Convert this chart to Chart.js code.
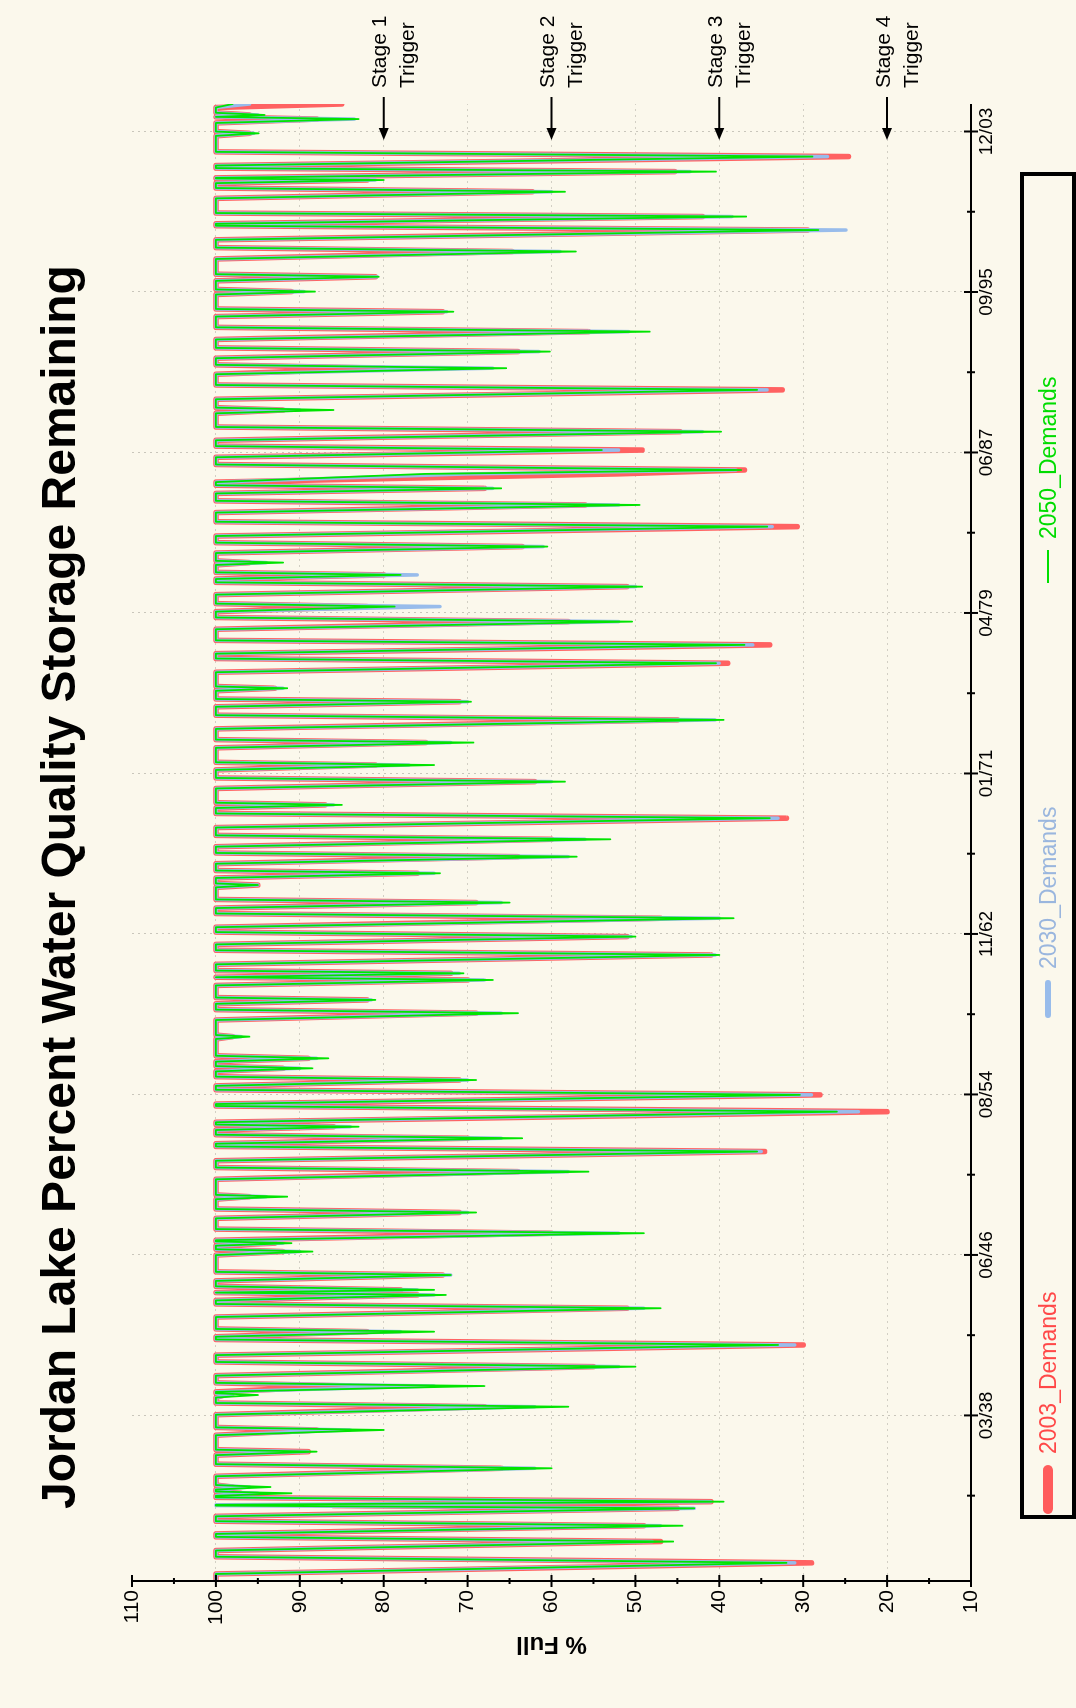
<!DOCTYPE html>
<html lang="en">
<head>
    <meta charset="UTF-8">
    <title>Jordan Lake Percent Water Quality Storage Remaining</title>
    <script src="https://cdn.jsdelivr.net/npm/chart.js"></script>
    <style>
        html, body {
            margin: 0;
            padding: 0;
            width: 1076px;
            height: 1708px;
            overflow: hidden;
            background: #fbf8ec;
            font-family: 'Liberation Sans', Arial, Helvetica, sans-serif;
        }
        /* chart is drawn landscape, then turned a quarter to the left */
        #wrap {
            position: absolute;
            left: 0;
            top: 0;
            width: 1708px;
            height: 1076px;
            background: #fbf8ec;
            transform-origin: 0 0;
            transform: translate(0, 1708px) rotate(-90deg);
        }
        #chart { position: absolute; left: 0; top: 0; }
        #title {
            position: absolute;
            left: 199px;
            top: 35px;
            font-size: 48px;
            line-height: 48px;
            font-weight: bold;
            white-space: nowrap;
            color: #000;
        }
        #legend {
            position: absolute;
            left: 189px;
            top: 1020px;
            width: 1347px;
            height: 56px;
            border: 4px solid #000;
            box-sizing: border-box;
        }
        .item { position: absolute; top: 0; height: 48px; }
        .sw { position: absolute; top: 24px; transform: translateY(-50%); }
        .lbl { position: absolute; top: 11px; font-size: 23px; line-height: 26px; white-space: nowrap; }
    </style>
</head>
<body>
<div id="wrap">
    <canvas id="chart" width="1708" height="1076"></canvas>
    <div id="title">Jordan Lake Percent Water Quality Storage Remaining</div>
    <div id="legend">
        <div class="item" style="left:1px">
            <span class="sw" style="left:0;width:49px;height:10px;border-radius:5px;background:#ff5c5c"></span>
            <span class="lbl" style="left:60px;color:#ff4848">2003_Demands</span>
        </div>
        <div class="item" style="left:497px">
            <span class="sw" style="left:0;width:38px;height:6px;border-radius:3px;background:#98bceb"></span>
            <span class="lbl" style="left:49px;color:#9ab6de">2030_Demands</span>
        </div>
        <div class="item" style="left:932px">
            <span class="sw" style="left:0;width:33px;height:2px;background:#00e000"></span>
            <span class="lbl" style="left:44px;color:#00dc00">2050_Demands</span>
        </div>
    </div>
</div>

<script>
    // time in decimal years, one row per drawdown event
    const times = [
        1929.74,
        1930.10, 1930.67, 1930.98,
        1931.30, 1931.76, 1932.00,
        1932.15, 1932.57, 1932.80,
        1933.05, 1933.46, 1933.60, 1933.64, 1933.80, 1934.02,
        1934.10, 1934.23, 1934.32,
        1934.42, 1934.55, 1934.65,
        1935.10, 1935.51, 1935.72,
        1936.18, 1936.36, 1936.46,
        1937.20, 1937.47, 1937.60,
        1938.25, 1938.66, 1938.85,
        1939.13, 1939.26, 1939.35,
        1939.42, 1939.72, 1939.88,
        1940.25, 1940.71, 1940.95,
        1941.30, 1941.82, 1942.10,
        1942.24, 1942.50, 1942.64,
        1943.25, 1943.70, 1943.92,
        1944.10, 1944.38, 1944.50, 1944.64, 1944.82,
        1945.10, 1945.40, 1945.56,
        1946.42, 1946.60, 1946.72,
        1946.90, 1947.03, 1947.12,
        1947.18, 1947.54, 1947.75,
        1948.30, 1948.60, 1948.78,
        1949.28, 1949.41, 1949.50,
        1950.30, 1950.69, 1950.90,
        1951.25, 1951.72, 1951.98,
        1952.12, 1952.40, 1952.58,
        1952.82, 1952.99, 1953.10,
        1953.22, 1953.76, 1954.05,
        1954.15, 1954.62, 1954.88,
        1955.08, 1955.38, 1955.55,
        1955.82, 1955.98, 1956.09,
        1956.32, 1956.49, 1956.62,
        1957.48, 1957.60, 1957.68,
        1958.45, 1958.80, 1958.98,
        1959.28, 1959.48, 1959.60,
        1960.22, 1960.50, 1960.64, 1960.84, 1960.98,
        1961.30, 1961.78, 1962.02,
        1962.32, 1962.72, 1962.95,
        1963.20, 1963.66, 1963.90,
        1964.18, 1964.46, 1964.62,
        1965.24, 1965.36, 1965.44,
        1965.72, 1965.96, 1966.10,
        1966.45, 1966.81, 1967.00,
        1967.32, 1967.70, 1967.90,
        1968.30, 1968.78, 1969.02,
        1969.30, 1969.46, 1969.57,
        1970.30, 1970.65, 1970.84,
        1971.25, 1971.50, 1971.64,
        1972.38, 1972.65, 1972.80,
        1973.35, 1973.81, 1974.05,
        1974.48, 1974.74, 1974.88,
        1975.30, 1975.43, 1975.52,
        1976.25, 1976.71, 1976.95,
        1977.20, 1977.65, 1977.88,
        1978.45, 1978.84, 1979.05,
        1979.35, 1979.61, 1979.76,
        1980.22, 1980.63, 1980.85,
        1981.02, 1981.23, 1981.36,
        1981.74, 1981.86, 1981.95,
        1982.35, 1982.68, 1982.88,
        1983.22, 1983.70, 1983.95,
        1984.42, 1984.81, 1985.02,
        1985.40, 1985.66, 1985.82,
        1985.98, 1986.40, 1986.60, 1986.88,
        1987.25, 1987.62, 1987.82,
        1988.12, 1988.56, 1988.80,
        1989.50, 1989.67, 1989.79,
        1990.22, 1990.70, 1990.95,
        1991.50, 1991.81, 1991.98,
        1992.32, 1992.66, 1992.85,
        1993.28, 1993.68, 1993.90,
        1994.45, 1994.70, 1994.84,
        1995.58, 1995.73, 1995.84,
        1996.28, 1996.49, 1996.62,
        1997.40, 1997.78, 1997.98,
        1998.38, 1998.88, 1999.10,
        1999.20, 1999.57, 1999.75,
        2000.50, 2000.84, 2001.03,
        2001.28, 2001.44, 2001.52,
        2001.55, 2001.87, 2002.05,
        2002.18, 2002.64, 2002.88,
        2003.70, 2003.83, 2003.92,
        2004.36, 2004.56, 2004.67, 2004.77, 2004.88,
        2005.15, 2005.33
    ];

    // % full, 2003 demands
    const d2003 = [
        100,
        100, 29, 100,
        100, 47, 100,
        100, 49, 100,
        100, 45, 86, 76, 41, 100,
        100, 97, 100,
        100, 98, 100,
        100, 66, 100,
        100, 89, 100,
        100, 88, 100,
        100, 68, 100,
        100, 99, 100,
        100, 84, 100,
        100, 55, 100,
        100, 30, 100,
        100, 82, 100,
        100, 51, 100,
        100, 76, 100, 78, 100,
        100, 73, 100,
        100, 92, 100,
        100, 93, 100,
        100, 60, 100,
        100, 71, 100,
        100, 96, 100,
        100, 64, 100,
        100, 34.6, 100,
        100, 70, 100,
        100, 86, 100,
        100, 20, 100,
        100, 28, 100,
        100, 71, 100,
        100, 92, 100,
        100, 89, 100,
        100, 98, 100,
        100, 69, 100,
        100, 82, 100,
        100, 70, 100, 72, 100,
        100, 41, 100,
        100, 51, 100,
        100, 47, 100,
        100, 69, 100,
        100, 95, 100,
        100, 76, 100,
        100, 64, 100,
        100, 60, 100,
        100, 32, 100,
        100, 87, 100,
        100, 62, 100,
        100, 81, 100,
        100, 75, 100,
        100, 45, 100,
        100, 71, 100,
        100, 93, 100,
        100, 39, 100,
        100, 34, 100,
        100, 58, 100,
        100, 82, 100,
        100, 51, 100,
        100, 80, 100,
        100, 96, 100,
        100, 63.5, 100,
        100, 30.7, 100,
        100, 56, 100,
        100, 68, 100,
        100, 52, 37, 100,
        100, 49.2, 100,
        100, 44.7, 100,
        100, 92, 100,
        100, 32.5, 100,
        100, 80, 100,
        100, 64, 100,
        100, 55.6, 100,
        100, 73, 100,
        100, 91, 100,
        100, 81, 100,
        100, 64.7, 100,
        100, 29.5, 100,
        100, 42, 100,
        100, 62.3, 100,
        100, 82, 100,
        100, 45.3, 100,
        100, 24.6, 100,
        100, 96, 100,
        100, 88, 100, 96, 100,
        100, 85
    ];

    // % full, 2030 demands
    const d2030 = [
        100,
        100, 31, 100,
        100, 48, 100,
        100, 47, 100,
        100, 43, 100, 100, 41, 100,
        100, 95, 100,
        100, 96, 100,
        100, 62, 100,
        100, 89, 100,
        100, 84, 100,
        100, 62, 100,
        100, 98, 100,
        100, 74, 100,
        100, 52, 100,
        100, 31, 100,
        100, 78, 100,
        100, 49, 100,
        100, 74, 100, 76, 100,
        100, 72, 100,
        100, 90, 100,
        100, 92, 100,
        100, 52, 100,
        100, 70, 100,
        100, 94, 100,
        100, 58, 100,
        100, 35, 100,
        100, 66, 100,
        100, 84, 100,
        100, 23.4, 100,
        100, 29, 100,
        100, 70, 100,
        100, 90, 100,
        100, 88, 100,
        100, 97, 100,
        100, 66, 100,
        100, 81.5, 100,
        100, 68, 100, 71, 100,
        100, 40.5, 100,
        100, 50.5, 100,
        100, 40, 100,
        100, 66, 100,
        100, 95, 100,
        100, 74, 100,
        100, 58, 100,
        100, 56, 100,
        100, 33, 100,
        100, 86, 100,
        100, 60, 100,
        100, 77, 100,
        100, 72, 100,
        100, 40.5, 100,
        100, 70, 100,
        100, 92, 100,
        100, 40, 100,
        100, 36, 100,
        100, 52, 100,
        100, 73.3, 100,
        100, 50, 100,
        100, 76, 100,
        100, 94, 100,
        100, 61, 100,
        100, 33.7, 100,
        100, 52, 100,
        100, 67, 100,
        100, 70, 38, 100,
        100, 52, 100,
        100, 42, 100,
        100, 90, 100,
        100, 34.3, 100,
        100, 67, 100,
        100, 61.5, 100,
        100, 50.8, 100,
        100, 72.5, 100,
        100, 89.5, 100,
        100, 80.8, 100,
        100, 59, 100,
        100, 24.9, 100,
        100, 38.5, 100,
        100, 60, 100,
        100, 81, 100,
        100, 43.5, 100,
        100, 27.1, 100,
        100, 95.5, 100,
        100, 83.5, 100, 95, 100,
        100, 96
    ];

    // % full, 2050 demands
    const d2050 = [
        100,
        100, 32, 100,
        100, 45.5, 100,
        100, 44.4, 100,
        100, 43, 100, 100, 39.5, 100,
        100, 91, 100,
        100, 93.5, 100,
        100, 60, 100,
        100, 88, 100,
        100, 80, 100,
        100, 58, 100,
        100, 95, 100,
        100, 68, 100,
        100, 50, 100,
        100, 33, 100,
        100, 74, 100,
        100, 47, 100,
        100, 72.6, 100, 74, 100,
        100, 72, 100,
        100, 88.5, 100,
        100, 91, 100,
        100, 49, 100,
        100, 69, 100,
        100, 91.5, 100,
        100, 55.6, 100,
        100, 35.5, 100,
        100, 63.5, 100,
        100, 83, 100,
        100, 26, 100,
        100, 30.4, 100,
        100, 69, 100,
        100, 88.5, 100,
        100, 86.6, 100,
        100, 96, 100,
        100, 64, 100,
        100, 81, 100,
        100, 67, 100, 70.5, 100,
        100, 40, 100,
        100, 50, 100,
        100, 38.3, 100,
        100, 65, 100,
        100, 95, 100,
        100, 73.3, 100,
        100, 57, 100,
        100, 53, 100,
        100, 34, 100,
        100, 85, 100,
        100, 58.4, 100,
        100, 74, 100,
        100, 69.3, 100,
        100, 39.5, 100,
        100, 69.6, 100,
        100, 91.5, 100,
        100, 40.4, 100,
        100, 37, 100,
        100, 50.4, 100,
        100, 78.7, 100,
        100, 49.2, 100,
        100, 78, 100,
        100, 92, 100,
        100, 60.5, 100,
        100, 34.3, 100,
        100, 49.5, 100,
        100, 66, 100,
        100, 75, 37.4, 100,
        100, 54, 100,
        100, 39.8, 100,
        100, 86, 100,
        100, 35.5, 100,
        100, 65.4, 100,
        100, 60.2, 100,
        100, 48.3, 100,
        100, 71.7, 100,
        100, 88.2, 100,
        100, 80.6, 100,
        100, 57.1, 100,
        100, 28.2, 100,
        100, 36.8, 100,
        100, 58.4, 100,
        100, 80, 100,
        100, 40.4, 100,
        100, 28.9, 100,
        100, 94.9, 100,
        100, 83, 100, 94.2, 100,
        100, 98
    ];

    // date ticks (every 3000 days from 1/1/1930)
    const tickYears = [1938.214, 1946.427, 1954.641, 1962.855, 1971.068, 1979.282, 1987.496, 1995.709, 2003.923];
    const tickLabels = ['03/38', '06/46', '08/54', '11/62', '01/71', '04/79', '06/87', '09/95', '12/03'];

    // drought stage triggers
    const triggerValues = [80, 60, 40, 20];
    const triggerNames = ['Stage 1', 'Stage 2', 'Stage 3', 'Stage 4'];

    if (times.length !== d2003.length || times.length !== d2030.length || times.length !== d2050.length) {
        console.warn('length mismatch', times.length, d2003.length, d2030.length, d2050.length);
    }

    const FONT = "'Liberation Sans', Arial, Helvetica, sans-serif";
    Chart.defaults.font.family = FONT;
    Chart.defaults.color = '#000';

    function pairs(vals) {
        return times.map((t, i) => ({ x: t, y: vals[i] }));
    }

    // axis lines, crossing tick marks and the stage trigger arrows
    const axesPlugin = {
        id: 'axesPlugin',
        afterDraw(chart) {
            const ctx = chart.ctx;
            const a = chart.chartArea;
            const x = chart.scales.x;
            const y = chart.scales.y;
            ctx.save();
            ctx.strokeStyle = '#000';
            ctx.lineWidth = 2;

            // value axis
            ctx.beginPath();
            ctx.moveTo(a.left, y.getPixelForValue(110));
            ctx.lineTo(a.left, a.bottom);
            ctx.stroke();
            for (let v = 10; v <= 110; v += 5) {
                const py = y.getPixelForValue(v);
                const len = v % 10 === 0 ? 6 : 3;
                ctx.beginPath();
                ctx.moveTo(a.left - len, py);
                ctx.lineTo(a.left + len, py);
                ctx.stroke();
            }

            // time axis
            ctx.beginPath();
            ctx.moveTo(a.left, a.bottom);
            ctx.lineTo(a.right, a.bottom);
            ctx.stroke();
            const step = tickYears[1] - tickYears[0];
            const minor = [tickYears[0] - step / 2];
            tickYears.forEach((t, i) => {
                if (i < tickYears.length - 1) minor.push(t + step / 2);
            });
            tickYears.forEach(t => {
                const px = x.getPixelForValue(t);
                ctx.beginPath();
                ctx.moveTo(px, a.bottom - 7);
                ctx.lineTo(px, a.bottom + 7);
                ctx.stroke();
            });
            minor.forEach(t => {
                const px = x.getPixelForValue(t);
                ctx.beginPath();
                ctx.moveTo(px, a.bottom - 4);
                ctx.lineTo(px, a.bottom + 4);
                ctx.stroke();
            });

            // stage triggers
            ctx.fillStyle = '#000';
            ctx.font = '21px ' + FONT;
            ctx.textAlign = 'left';
            ctx.textBaseline = 'middle';
            triggerValues.forEach((v, i) => {
                const py = y.getPixelForValue(v);
                const tail = a.right + 7;
                const tip = a.right - 36;
                ctx.lineWidth = 2;
                ctx.beginPath();
                ctx.moveTo(tail, py);
                ctx.lineTo(tip + 10, py);
                ctx.stroke();
                ctx.beginPath();
                ctx.moveTo(tip, py);
                ctx.lineTo(tip + 12, py - 5);
                ctx.lineTo(tip + 12, py + 5);
                ctx.closePath();
                ctx.fill();
                ctx.fillText(triggerNames[i], a.right + 16, py - 3);
                ctx.fillText('Trigger', a.right + 16, py + 25);
            });
            ctx.restore();
        }
    };

    const ctx = document.getElementById('chart').getContext('2d');
    new Chart(ctx, {
        type: 'line',
        data: {
            datasets: [
                { label: '2050_Demands', data: pairs(d2050), borderColor: '#00e400', borderWidth: 1.8, order: 1 },
                { label: '2030_Demands', data: pairs(d2030), borderColor: '#98bceb', borderWidth: 3.5, order: 2 },
                { label: '2003_Demands', data: pairs(d2003), borderColor: '#ff6262', borderWidth: 5.5, order: 3 }
            ]
        },
        options: {
            responsive: false,
            animation: false,
            devicePixelRatio: 1,
            elements: {
                point: { radius: 0 },
                line: { tension: 0, borderJoinStyle: 'round', borderCapStyle: 'round', fill: false }
            },
            layout: { padding: { left: 0, top: 132, right: 104, bottom: 45 } },
            plugins: {
                legend: { display: false },
                title: { display: false },
                tooltip: { enabled: false }
            },
            scales: {
                x: {
                    type: 'linear',
                    min: 1929.74,
                    max: 2005.33,
                    afterBuildTicks: s => { s.ticks = tickYears.map(v => ({ value: v })); },
                    afterFit: s => { s.height = 60; },
                    ticks: {
                        autoSkip: false,
                        maxRotation: 0,
                        padding: 4,
                        font: { size: 19 },
                        color: '#000',
                        callback: (v, i) => tickLabels[i]
                    },
                    grid: { color: '#c9c6bb', lineWidth: 1, drawTicks: false },
                    border: { display: false, dash: [2, 4] }
                },
                y: {
                    min: 10,
                    max: 110,
                    afterFit: s => { s.width = 127; },
                    ticks: { stepSize: 10, padding: 9, font: { size: 21 }, color: '#000' },
                    grid: {
                        drawTicks: false,
                        lineWidth: 1,
                        color: c => (c.tick && (c.tick.value === 110 || c.tick.value === 10)) ? 'rgba(0,0,0,0)' : '#d2cfc4'
                    },
                    border: { display: false, dash: [2, 4] },
                    title: {
                        display: true,
                        text: '% Full',
                        font: { size: 24, weight: 'bold' },
                        color: '#000',
                        padding: { top: 50, bottom: 0 }
                    }
                }
            }
        },
        plugins: [axesPlugin]
    });
</script>
</body>
</html>
